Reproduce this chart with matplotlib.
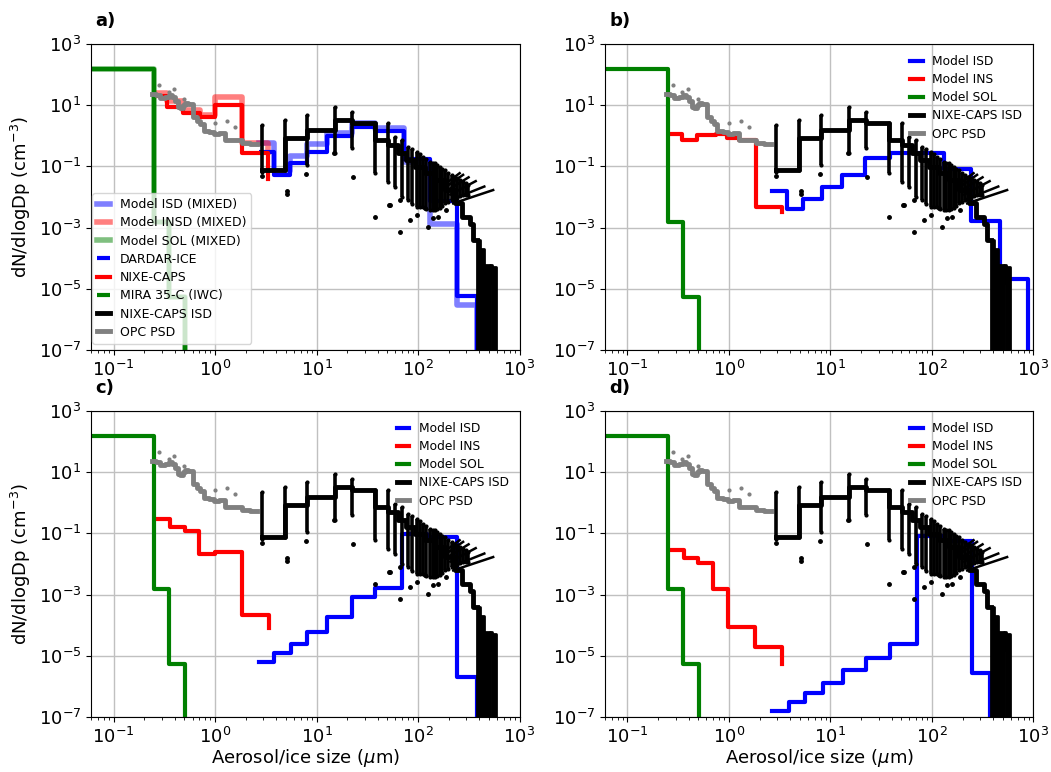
import matplotlib
matplotlib.use('Agg')
import matplotlib.pyplot as plt
from matplotlib.ticker import NullLocator

plt.rcParams['font.size'] = 13

# ---------------- observations (same in all panels) ----------------
# OPC particle size distribution (step edges / values)
opc_edges = [0.24, 0.265, 0.29, 0.32, 0.35, 0.38, 0.405, 0.43, 0.45, 0.48, 0.51, 0.54,
             0.61, 0.66, 0.71, 0.77, 0.87, 0.97, 1.1, 1.26, 1.5, 1.84, 2.2, 2.6]
opc_vals = [24, 22, 17, 18, 21, 19, 14, 9, 8, 10.5, 12, 11,
            4.2, 3.0, 2.4, 1.4, 1.3, 1.15, 1.2, 0.75, 0.72, 0.57, 0.55]
opc_dot_x = [0.278, 0.348, 0.398, 0.50, 0.99, 1.31, 1.58]
opc_dot_y = [46, 27, 34, 15.5, 2.6, 3.1, 2.0]

# NIXE-CAPS ice size distribution
nixe_isd_edges = [2.88, 4.9, 8.0, 15.2, 22.2, 37.6, 51, 64, 77, 93, 117, 147, 185,
                  232, 270, 324, 350, 380]
nixe_isd_vals = [0.076, 0.83, 1.5, 3.2, 2.7, 0.75, 0.5, 0.27, 0.16, 0.098, 0.06,
                 0.036, 0.017, 0.0063, 0.0023, 1.3e-3, 4e-4]
# large-size tail (values drop out -> filled band)
tail_edges = [380, 410, 443, 512]
tail_top = [4e-4, 2e-4, 6e-5]
tail2_edges = [532, 585]
tail2_top = [5e-5]
gap_edges = [512, 532]
gap_lo = [1.6e-5]
gap_hi = [6e-5]
# spread of individual samples at each bin edge
col_x = [2.9, 4.9, 8.0, 15.2, 22.2, 37.6, 51, 59, 69, 80, 88, 97, 105, 112, 121, 131,
         139, 147, 155, 164, 174, 184, 198, 214, 226, 240, 259, 279, 295, 312]
col_lo = [0.068, 0.076, 0.11, 0.27, 0.39, 0.059, 0.032, 0.022, 0.0103, 0.0079, 0.006,
          0.0048, 0.0048, 0.0048, 0.004, 0.0038, 0.0038, 0.0038, 0.004, 0.0043, 0.005,
          0.0063, 0.007, 0.0079, 0.0085, 0.0091, 0.0105, 0.0117, 0.0117, 0.0117]
col_hi = [2.25, 3.3, 4.8, 8.9, 6.2, 2.6, 2.6, 0.93, 0.73, 0.44, 0.36, 0.30, 0.25, 0.21,
          0.17, 0.14, 0.13, 0.126, 0.11, 0.098, 0.085, 0.076, 0.062, 0.052, 0.046, 0.041,
          0.036, 0.032, 0.028, 0.025]
out_x = [2.9, 5.1, 5.1, 7.9, 15.0, 22.7, 37.6, 52, 53, 66, 67, 83, 97, 117, 126,
         141, 158, 190]
out_y = [0.05, 0.016, 0.013, 0.056, 0.27, 0.046, 2.2e-3, 5.6e-3, 5.5e-3, 7.9e-3,
         7.2e-4, 1.8e-3, 2.6e-3, 4.3e-3, 1.07e-3, 2e-3, 2.3e-3, 3.8e-3]
streak_x0 = [222, 216, 208, 200, 194, 190]
streak_x1 = [550, 450, 370, 315, 278, 257]
streak_y0 = [6.2e-3, 8.3e-3, 0.012, 0.0175, 0.023, 0.0282]
streak_y1 = [0.0169, 0.022, 0.033, 0.044, 0.053, 0.06]

# ---------------- model / retrieval data ----------------
sol_edges = [0.04, 0.25, 0.355, 0.505]
sol_vals = [150, 1.5e-3, 5.5e-6]

# panel a
a_isd_edges = [2.71, 3.8, 5.5, 8.1, 12.7, 22.4, 38, 72, 132, 242, 380]
a_isd_mixed = [0.57, 0.07, 0.22, 0.55, 1.25, 2.6, 1.75, 0.14, 1.3e-3, 2.9e-6]
a_dardar = [0.30, 0.052, 0.126, 0.30, 0.95, 1.9, 1.45, 0.17, 7.2e-3, 5.8e-6]
a_ins_edges = [0.255, 0.34, 0.48, 0.71, 1.0, 1.83, 3.35]
a_insd_mixed = [26, 14, 7.0, 4.8, 18, 0.57]
a_nixe = [20, 9, 5.6, 4.2, 9.8, 0.28]

# panel b
b_isd_edges = [2.67, 3.76, 5.36, 8.2, 13.1, 21.8, 38.5, 131, 245, 473, 875]
b_isd = [0.016, 4e-3, 8.6e-3, 0.021, 0.053, 0.19, 0.28, 0.08, 1.7e-3, 2.1e-5]
b_ins_edges = [0.257, 0.348, 0.489, 0.741, 0.964, 1.256, 1.84, 3.36]
b_ins = [1.15, 0.73, 1.06, 1.15, 0.83, 0.73, 4.8e-3]

# panel c
c_isd_edges = [2.71, 3.8, 5.55, 8.1, 12.7, 22.4, 38, 70, 123, 242, 380]
c_isd = [6.3e-6, 1.2e-5, 2.4e-5, 6.2e-5, 1.9e-4, 8.2e-4, 1.6e-3, 0.095, 0.075, 2e-6]
c_ins_edges = [0.267, 0.361, 0.503, 0.697, 1.0, 1.83, 3.4]
c_ins = [0.295, 0.16, 0.116, 0.0214, 0.0245, 2.1e-4]

# panel d
d_isd_edges = [2.67, 3.9, 5.6, 8.4, 13.3, 22.2, 39, 71, 131, 249, 377]
d_isd = [1.6e-7, 3.1e-7, 6.1e-7, 1.3e-6, 3.4e-6, 8.6e-6, 2.4e-5, 0.083, 0.055, 2.8e-6]
d_ins_edges = [0.261, 0.361, 0.5, 0.702, 0.986, 1.79, 3.36]
d_ins = [0.0277, 0.0155, 0.0107, 1.55e-3, 8.5e-5, 2e-5]

FLOOR = 1e-12


def step(ax, edges, vals, end=None, **kw):
    y = list(vals) + [vals[-1] if end is None else end]
    return ax.step(edges, y, where='post', **kw)


def observations(ax):
    ax.vlines(col_x, col_lo, col_hi, color='k', lw=2.6, zorder=4)
    ax.plot(col_x + col_x, col_lo + col_hi, '.', color='k', ms=4, zorder=4)
    ax.plot(out_x, out_y, '.', color='k', ms=5, zorder=4)
    for i in range(len(streak_x0)):
        ax.plot([streak_x0[i], streak_x1[i]], [streak_y0[i], streak_y1[i]],
                color='k', lw=1.8, zorder=4)
    step(ax, nixe_isd_edges, nixe_isd_vals, end=tail_top[0], color='k', lw=3.5,
         label='NIXE-CAPS ISD', zorder=5)
    ax.fill_between(tail_edges, [FLOOR] * len(tail_edges), tail_top + [tail_top[-1]],
                    step='post', color='k', lw=2, zorder=5)
    ax.fill_between(tail2_edges, [FLOOR] * len(tail2_edges), tail2_top + [tail2_top[-1]],
                    step='post', color='k', lw=2, zorder=5)
    ax.fill_between(gap_edges, gap_lo + gap_lo, gap_hi + gap_hi,
                    color='k', lw=2, zorder=5)
    step(ax, opc_edges, opc_vals, color='grey', lw=3.5, label='OPC PSD', zorder=6)
    ax.plot(opc_dot_x, opc_dot_y, '.', color='grey', ms=4, zorder=6)


fig = plt.figure(figsize=(10.51, 7.72), dpi=100)
W, H = 0.4077, 0.3964
pos = {'a': [0.0866, 0.5466], 'b': [0.5756, 0.5466],
       'c': [0.0866, 0.0712], 'd': [0.5756, 0.0712]}
axes = {k: fig.add_axes([v[0], v[1], W, H]) for k, v in pos.items()}

# panel a
ax = axes['a']
step(ax, a_isd_edges, a_isd_mixed, end=FLOOR, color='blue', alpha=0.5, lw=4,
     label='Model ISD (MIXED)')
step(ax, a_ins_edges, a_insd_mixed, end=0.3, color='red', alpha=0.5, lw=4,
     label='Model INSD (MIXED)')
step(ax, sol_edges, sol_vals, end=FLOOR, color='green', alpha=0.5, lw=4,
     label='Model SOL (MIXED)')
step(ax, a_isd_edges, a_dardar, end=FLOOR, color='blue', lw=3,
     solid_capstyle='butt', label='DARDAR-ICE')
step(ax, a_ins_edges, a_nixe, end=0.04, color='red', lw=3, label='NIXE-CAPS')
step(ax, sol_edges, sol_vals, end=FLOOR, color='green', lw=3,
     solid_capstyle='butt', label='MIRA 35-C (IWC)')
observations(ax)
ax.legend(loc='lower left', bbox_to_anchor=(-0.012, 0.0), fontsize=9,
          handlelength=1.0, labelspacing=0.42)

# panels b-d
for key, ie, iv, ne, nv, nend in [('b', b_isd_edges, b_isd, b_ins_edges, b_ins, 3.3e-3),
                                  ('c', c_isd_edges, c_isd, c_ins_edges, c_ins, 8e-5),
                                  ('d', d_isd_edges, d_isd, d_ins_edges, d_ins, 5.6e-6)]:
    ax = axes[key]
    step(ax, ie, iv, end=FLOOR, color='blue', lw=3, label='Model ISD')
    step(ax, ne, nv, end=nend, color='red', lw=3, label='Model INS')
    step(ax, sol_edges, sol_vals, end=FLOOR, color='green', lw=3, label='Model SOL')
    observations(ax)
    ax.legend(loc='upper right', frameon=False, fontsize=8.8, handlelength=1.0,
              labelspacing=0.42)

for key, ax in axes.items():
    ax.set_xscale('log')
    ax.set_yscale('log')
    ax.set_xlim(0.06, 1000)
    ax.set_ylim(1e-7, 1e3)
    ax.set_yticks([1e3, 1e1, 1e-1, 1e-3, 1e-5, 1e-7])
    ax.yaxis.set_minor_locator(NullLocator())
    ax.grid(True, which='major', color='#c0c0c0', lw=1)
    ax.set_axisbelow(True)
    ax.text(0.01, 1.045, key + ')', transform=ax.transAxes, fontsize=13,
            fontweight='bold', va='bottom')

axes['a'].set_ylabel('dN/dlogDp (cm$^{-3}$)')
axes['c'].set_ylabel('dN/dlogDp (cm$^{-3}$)')
axes['c'].set_xlabel('Aerosol/ice size ($\\mu$m)', labelpad=0)
axes['d'].set_xlabel('Aerosol/ice size ($\\mu$m)', labelpad=0)

fig.savefig('out.png', dpi=100)
